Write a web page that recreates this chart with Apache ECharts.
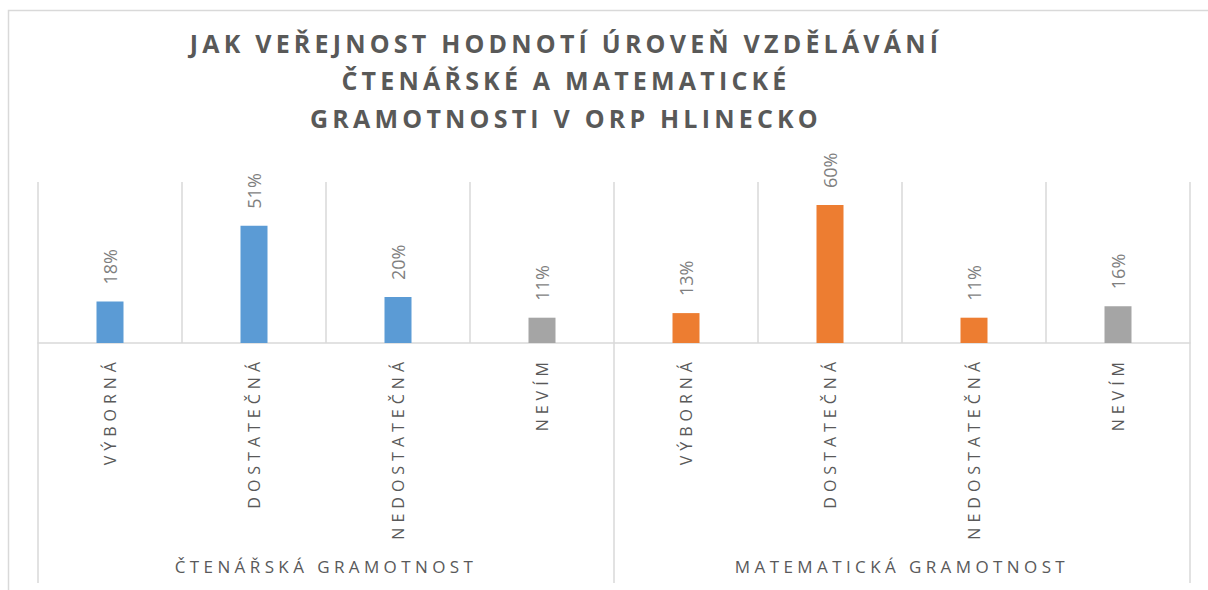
<!DOCTYPE html>
<html><head><meta charset="utf-8">
<script src="https://cdn.jsdelivr.net/npm/echarts@6/dist/echarts.min.js"></script>
<style>
html,body{margin:0;padding:0;background:#fff;}
#chart{width:1208px;height:590px;}
#chart text[fill="#595958"]{letter-spacing:4.2px;}
#chart text[fill="#595959"]{letter-spacing:5px;}
#chart text[fill="#59595a"]{letter-spacing:4.4px;}
</style></head><body><div id="chart"></div>
<script>
// ---- data ----
const titleLines = ['JAK VEŘEJNOST HODNOTÍ ÚROVEŇ VZDĚLÁVÁNÍ', 'ČTENÁŘSKÉ A MATEMATICKÉ', 'GRAMOTNOSTI V ORP HLINECKO'];
const groups = ['ČTENÁŘSKÁ GRAMOTNOST', 'MATEMATICKÁ GRAMOTNOST'];
const answers = ['VÝBORNÁ', 'DOSTATEČNÁ', 'NEDOSTATEČNÁ', 'NEVÍM'];
const readingValues = [18, 51, 20, 11];
const mathValues = [13, 60, 11, 16];
const yMax = 70;

// ---- styles ----
const groupColors = ['#5B9BD5', '#ED7D31'];
const unknownColor = '#A5A5A5';
const FONT = '"Open Sans", "Noto Sans", sans-serif';

const categories = answers.concat(answers);
const values = readingValues.concat(mathValues);

const chart = echarts.init(document.getElementById('chart'), null, {renderer: 'svg'});
chart.setOption({
  animation: false,
  backgroundColor: '#fff',
  title: {
    text: titleLines.join('\n'),
    left: 561, top: 19, textAlign: 'center',
    textStyle: {fontFamily: FONT, fontWeight: 'bold', fontSize: 25, color: '#595958', lineHeight: 37.5}
  },
  graphic: [{
    type: 'rect', silent: true,
    shape: {x: 8.5, y: 10.5, width: 1400, height: 800},
    style: {fill: 'none', stroke: '#D9D9D9', lineWidth: 1.5}
  }],
  grid: {left: 38, right: 18, top: 182, bottom: 247, containLabel: false, outerBoundsMode: 'none'},
  xAxis: [{
    type: 'category', data: categories, boundaryGap: true,
    axisLine: {show: true, lineStyle: {color: '#D9D9D9', width: 1.5}},
    axisTick: {show: false},
    splitLine: {show: true, interval: 0, lineStyle: {color: '#D9D9D9', width: 1.5}},
    axisLabel: {interval: 0, rotate: 90, margin: 14, fontFamily: FONT, fontSize: 16, color: '#595959'}
  }, {
    type: 'category', data: groups, position: 'bottom', offset: 240, boundaryGap: true,
    axisLine: {show: false},
    axisTick: {show: true, inside: true, length: 240, interval: 0, lineStyle: {color: '#D9D9D9', width: 1.5}},
    axisLabel: {inside: true, margin: 8, interval: 0, fontFamily: FONT, fontSize: 17, color: '#59595a'}
  }],
  yAxis: {type: 'value', min: 0, max: yMax, show: false, splitLine: {show: false}},
  series: [{
    type: 'bar', xAxisIndex: 0, data: values, barWidth: 27,
    itemStyle: {color: p => (p.dataIndex % 4 === 3 ? unknownColor : groupColors[Math.floor(p.dataIndex / 4)])},
    label: {
      show: true, position: 'top', rotate: 90, align: 'left', verticalAlign: 'middle', distance: 17,
      formatter: p => p.value + '%', fontFamily: FONT, fontSize: 18, color: '#7F7F7F'
    }
  }]
});
</script></body></html>
